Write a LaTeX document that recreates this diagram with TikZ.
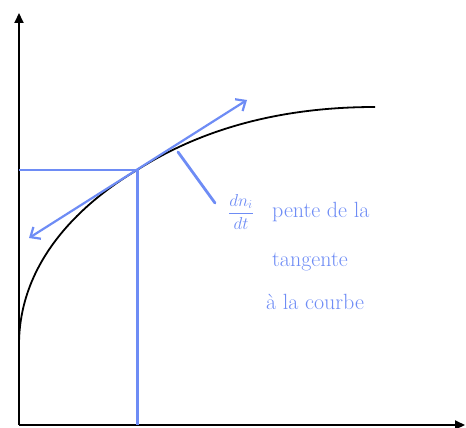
\documentclass[tikz,border=0pt]{standalone}
\usepackage{fontspec}
\usetikzlibrary{arrows.meta}
\definecolor{pen}{RGB}{110,140,245}
\begin{document}
\begin{tikzpicture}[x=1pt,y=-1pt,
  axis/.style={line width=2pt,-{Triangle[length=10pt,width=9pt]}},
  curve/.style={line width=1.8pt},
  penline/.style={pen,line width=2.2pt,line cap=round},
  lbl/.style={pen,font=\fontsize{22}{26}\selectfont,inner sep=0pt,anchor=west}]
\useasboundingbox (0,0) rectangle (466,428);
\coordinate (O) at (19,425);
\coordinate (ytop) at (19,13);
\coordinate (xend) at (465,425);
\coordinate (c0) at (19,345);
\coordinate (P) at (137,170);
\coordinate (cend) at (375,107);
\coordinate (yP) at (19,170);
\coordinate (xP) at (137,425);
\coordinate (tA) at (29,238);
\coordinate (tB) at (247,100);
\coordinate (pt1) at (178,152);
\coordinate (pt2) at (215,203);
% axes
\draw[axis] (O) -- (ytop);
\draw[axis] (O) -- (xend);
% curve
\draw[curve] (c0) .. controls (19,262) and (80,204) .. (P)
  .. controls (217,119) and (305,107) .. (cend);
% projections
\draw[pen,line width=1.6pt] (yP) -- (P);
\draw[pen,line width=3pt] (P) -- (xP);
% tangent
\draw[penline,{Straight Barb[length=8pt,width=14pt]}-{Straight Barb[length=8pt,width=14pt]}] (tA) -- (tB);
% pointer
\draw[penline,line width=2.8pt] (pt1) -- (pt2);
% labels
\node[pen,font=\fontsize{17}{19}\selectfont,inner sep=0pt] (frac) at (241,212) {$\displaystyle\frac{dn_i}{dt}$};
\node[lbl] (t1) at (272,212) {pente de la};
\node[lbl] (t2) at (272,262) {tangente};
\node[lbl] (t3) at (266,302) {à la courbe};
\end{tikzpicture}
\end{document}
